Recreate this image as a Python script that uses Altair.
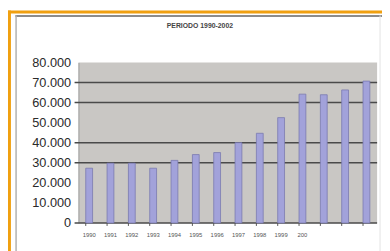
import altair as alt
import pandas as pd

years = [str(y) for y in range(1990, 2004)]
values = [27300, 29800, 29800, 27300, 31200, 34100, 35100, 40000, 44700, 52500, 64200, 63900, 66300, 70700]
shown_labels = years[:10] + ["200", "", "", ""]
grid_values = [0, 30000, 40000, 60000, 70000]
y_ticks = [0, 10000, 20000, 30000, 40000, 50000, 60000, 70000, 80000]
title_text = "PERIODO 1990-2002"

W, H = 305, 164

df = pd.DataFrame({"year": years, "value": values})
grid_df = pd.DataFrame({"value": grid_values})
one = alt.Data(values=[{}])

label_map = "{" + ",".join(f"'{y}':'{l}'" for y, l in zip(years, shown_labels)) + "}"

xscale = alt.Scale(domain=years, paddingInner=0.68, paddingOuter=0.34)
yscale = alt.Scale(domain=[0, 80000], nice=False)

xaxis = alt.Axis(title=None, labelAngle=0, labelFontSize=6, labelColor="#555555",
                 ticks=False, domain=False, labelPadding=9, grid=False,
                 labelExpr=label_map + "[datum.value]")
yaxis = alt.Axis(title=None, values=y_ticks, labelFontSize=13, labelColor="#2a2a2a",
                 labelFont="Liberation Sans", ticks=False, tickSize=0, labelPadding=8,
                 domain=True, domainColor="#a0a0a0", grid=False,
                 labelExpr="replace(format(datum.value, ','), ',', '.')")

def hrule(x1, x2, y, color, w):
    return alt.Chart(one).mark_rule(color=color, strokeWidth=w).encode(
        x=alt.value(x1), x2=alt.value(x2), y=alt.value(y))

def vrule(x, y1, y2, color, w):
    return alt.Chart(one).mark_rule(color=color, strokeWidth=w).encode(
        x=alt.value(x), y=alt.value(y1), y2=alt.value(y2))

frames = [
    hrule(-72, W + 10, -51.5, "#f0a010", 3),
    vrule(-70.5, -53, H + 30, "#f0a010", 3),
    hrule(-64.5, W + 10, -47.5, "#8c8c8c", 2),
    vrule(-63.75, -48, H + 30, "#b0b0b0", 1.5),
    vrule(308, -48, H + 30, "#e2e2e2", 1),
]

grid = alt.Chart(grid_df).mark_rule(color="#4a4a4a", strokeWidth=1.5).encode(
    y=alt.Y("value:Q", scale=yscale, axis=yaxis),
    x=alt.value(-4), x2=alt.value(W),
)

bars = alt.Chart(df).mark_bar(color="#a2a2da", stroke="#7a7ab0", strokeWidth=0.8).encode(
    x=alt.X("year:N", scale=xscale, sort=years, axis=xaxis),
    y=alt.Y("value:Q", scale=yscale, axis=yaxis),
)

xticks = alt.Chart(df).mark_rule(color="#555555", strokeWidth=1).encode(
    x=alt.X("year:N", scale=xscale, sort=years, bandPosition=0, axis=xaxis),
    y=alt.value(H), y2=alt.value(H + 3),
)

title = alt.Chart(one).mark_text(text=title_text, fontSize=7, fontWeight="bold",
                                  color="#444444", font="Liberation Sans").encode(
    x=alt.value(124), y=alt.value(-37))

chart = alt.layer(*frames, grid, bars, xticks, title).properties(
    width=W, height=H,
    padding={"left": 72, "top": 53, "right": 5, "bottom": 26},
    autosize=alt.AutoSizeParams(type="none"),
    background="white",
).configure_view(fill="#c9c7c4", stroke=None)

chart.save("out.html", embed_options={"renderer": "svg", "actions": False})
